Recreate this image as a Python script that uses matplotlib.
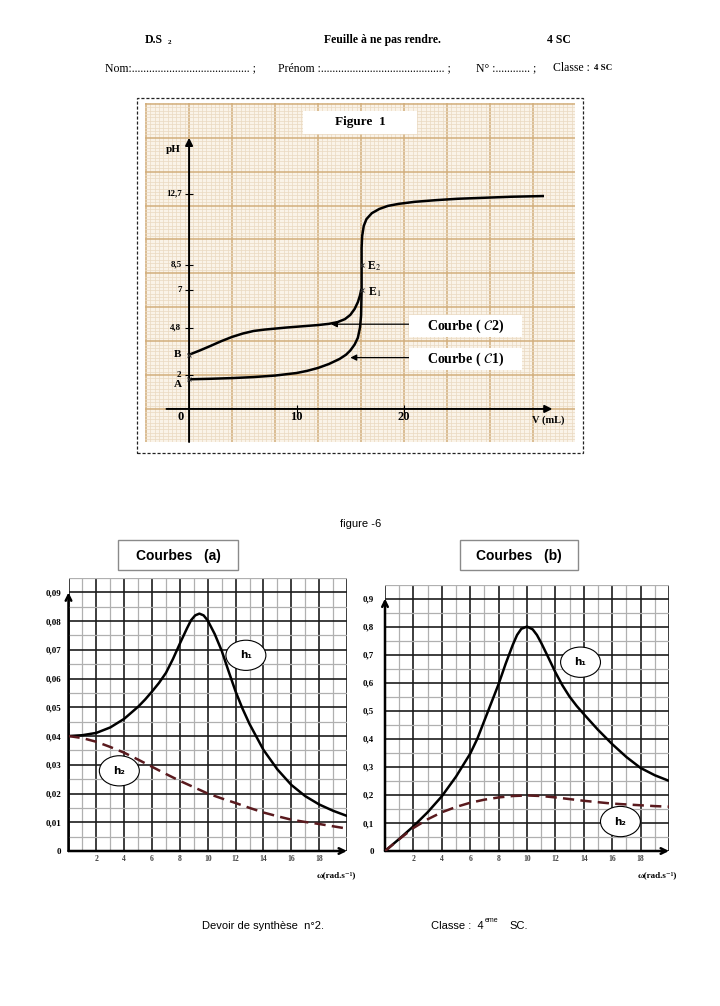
import numpy as np
import matplotlib
matplotlib.use("Agg")
import matplotlib.pyplot as plt
from matplotlib.patches import Rectangle, Ellipse
from matplotlib.ticker import MultipleLocator

W, H = 720, 1006
SERIF = ["Liberation Serif", "DejaVu Serif"]
SANS = ["Liberation Sans", "DejaVu Sans"]

# ---- figure 1 : pH = f(V) ----
c1_v = [0, 2, 4, 6, 8, 10, 11, 12, 13, 14, 14.6, 15.0, 15.4, 15.7, 15.9, 16.0,
        16.05, 16.05, 16.05, 16.1, 16.25, 16.5, 17.0, 17.7, 18.5, 19.5, 21, 23,
        25, 27.5, 30, 32.9]
c1_ph = [1.75, 1.78, 1.82, 1.88, 1.97, 2.12, 2.25, 2.42, 2.65, 2.95, 3.2, 3.45,
         3.8, 4.2, 4.8, 5.5, 7.0, 8.5, 9.5, 10.2, 10.8, 11.2, 11.55, 11.8, 11.98,
         12.1, 12.22, 12.32, 12.4, 12.46, 12.52, 12.56]
c2_v = [0, 1, 2, 3, 4, 5, 6, 7, 8, 9, 10, 11, 12, 13, 13.8, 14.5, 15.0, 15.4,
        15.7, 15.9, 16.0]
c2_ph = [3.2, 3.45, 3.72, 4.0, 4.25, 4.45, 4.6, 4.68, 4.74, 4.8, 4.85, 4.9, 4.95,
         5.02, 5.12, 5.3, 5.55, 5.9, 6.3, 6.7, 7.0]
ph_ticks = [2, 4.8, 7, 8.5, 12.7]
ph_labels = ["2", "4,8", "7", "8,5", "12,7"]
v_ticks = [10, 20]
v_labels = ["10", "20"]
pts_v = [0, 0, 16.05, 16.05]      # A, B, E1, E2
pts_ph = [1.75, 3.2, 7.0, 8.5]

# ---- courbes (a) ----
wa1 = [0, 1, 2, 3, 4, 5, 5.5, 6, 6.5, 7, 7.5, 8, 8.5, 8.8, 9.1, 9.4, 9.7, 10,
       10.5, 11, 11.5, 12, 12.5, 13, 14, 15, 16, 17, 18, 19, 20]
ha1 = [0.0400, 0.0403, 0.0411, 0.0430, 0.0460, 0.0502, 0.0527, 0.0555, 0.0585,
       0.0620, 0.0668, 0.0722, 0.0774, 0.0803, 0.0820, 0.0826, 0.0820, 0.0802,
       0.0755, 0.0697, 0.0625, 0.0555, 0.0495, 0.0442, 0.0352, 0.0284, 0.0230,
       0.0191, 0.0162, 0.0140, 0.0122]
wa2 = list(range(0, 21))
ha2 = [0.0400, 0.0393, 0.0380, 0.0362, 0.0342, 0.0318, 0.0293, 0.0268, 0.0244,
       0.0222, 0.0200, 0.0183, 0.0167, 0.0150, 0.0134, 0.0121, 0.0109, 0.0101,
       0.0094, 0.0086, 0.0078]

# ---- courbes (b) ----
wb1 = [0, 1, 2, 3, 4, 5, 6, 6.5, 7, 7.5, 8, 8.5, 9, 9.3, 9.6, 10, 10.4, 10.7,
       11, 11.5, 12, 12.5, 13, 13.5, 14, 15, 16, 17, 18, 19, 20]
hb1 = [0, 0.043, 0.088, 0.138, 0.195, 0.265, 0.347, 0.400, 0.465, 0.530, 0.595,
       0.668, 0.735, 0.770, 0.792, 0.800, 0.790, 0.770, 0.742, 0.690, 0.637,
       0.590, 0.550, 0.517, 0.488, 0.432, 0.381, 0.335, 0.296, 0.270, 0.250]
wb2 = list(range(0, 21))
hb2 = [0, 0.042, 0.082, 0.113, 0.138, 0.157, 0.172, 0.183, 0.191, 0.196, 0.198,
       0.196, 0.191, 0.185, 0.179, 0.174, 0.169, 0.166, 0.163, 0.160, 0.158]

w_ticks = list(range(0, 21, 2))
w_labels = [""] + [str(v) for v in range(2, 19, 2)] + [""]
ya_ticks = [i / 100 for i in range(10)]
ya_labels = ["0"] + ["0,0%d" % i for i in range(1, 10)]
yb_ticks = [i / 10 for i in range(10)]
yb_labels = ["0"] + ["0,%d" % i for i in range(1, 10)]


def rect(x0, y0, x1, y1):
    return [x0 / W, 1 - y1 / H, (x1 - x0) / W, (y1 - y0) / H]


def px(x, y):
    return x / W, 1 - y / H


fig = plt.figure(figsize=(7.2, 10.06), dpi=100)

# en-tete
hd = dict(family=SERIF, va="center")
fig.text(*px(145, 40), "D.S", fontsize=8.5, weight="bold", **hd)
fig.text(*px(168, 43), "2", fontsize=5, weight="bold", **hd)
fig.text(*px(382, 40), "Feuille à ne pas rendre.", fontsize=8.5, weight="bold",
         ha="center", **hd)
fig.text(*px(547, 40), "4 SC", fontsize=8.5, weight="bold", **hd)
fig.text(*px(105, 68), "Nom:" + "." * 41 + " ;", fontsize=8.5, **hd)
fig.text(*px(278, 68), "Prénom :" + "." * 43 + " ;", fontsize=8.5, **hd)
fig.text(*px(476, 68), "N° :" + "." * 12 + " ;", fontsize=8.5, **hd)
fig.text(*px(553, 68), "Classe :", fontsize=8.5, **hd)
fig.text(*px(594, 68), "4 SC", fontsize=6.5, weight="bold", **hd)

# cadre pointille
fig.patches.append(Rectangle((137 / W, 1 - 453 / H), 446 / W, 355 / H,
                             transform=fig.transFigure, fill=False, lw=0.9,
                             ls=(0, (2.5, 1.5)), ec="#222"))

ax1 = fig.add_axes(rect(145, 103, 575, 442))
ax1.set_facecolor("#faf3e8")
ax1.set_xlim(-4.1, 35.9)
ax1.set_ylim(-1.95, 18.05)
ax1.xaxis.set_major_locator(MultipleLocator(4))
ax1.yaxis.set_major_locator(MultipleLocator(2))
ax1.xaxis.set_minor_locator(MultipleLocator(0.4))
ax1.yaxis.set_minor_locator(MultipleLocator(0.2))
ax1.grid(which="major", color="#d2ae7c", lw=1.1)
ax1.grid(which="minor", color="#ead9c0", lw=0.5)
ax1.tick_params(which="both", length=0, labelbottom=False, labelleft=False)
for s in ax1.spines.values():
    s.set_visible(False)
ax1.set_axisbelow(True)

arr = dict(arrowstyle="-|>", color="k", lw=1.4, mutation_scale=11,
           shrinkA=0, shrinkB=0)
ax1.annotate("", xy=(0, 16.0), xytext=(0, -1.95), arrowprops=arr)
ax1.annotate("", xy=(33.8, 0), xytext=(-2.1, 0), arrowprops=arr)
ax1.plot(c1_v, c1_ph, color="k", lw=1.8, zorder=3)
ax1.plot(c2_v, c2_ph, color="k", lw=1.8, zorder=3)
ax1.plot(np.zeros(len(ph_ticks)), ph_ticks, ls="none", marker="_", ms=6,
         mew=0.8, color="k")
ax1.plot(v_ticks, np.zeros(len(v_ticks)), ls="none", marker="|", ms=6,
         mew=0.8, color="k")
ax1.plot(pts_v, pts_ph, ls="none", marker="x", ms=3.5, mew=0.7, color="#333",
         zorder=4)
for v, lab in zip(ph_ticks, ph_labels):
    ax1.text(-0.7, v, lab, ha="right", va="center", fontsize=6.5,
             weight="bold", family=SERIF)
for v, lab in zip(v_ticks, v_labels):
    ax1.text(v, -0.45, lab, ha="center", va="center", fontsize=9,
             weight="bold", family=SERIF)
ax1.text(-0.8, -0.45, "0", ha="center", va="center", fontsize=9,
         weight="bold", family=SERIF)
ax1.text(-0.7, 3.2, "B", ha="right", va="center", fontsize=8,
         weight="bold", family=SERIF)
ax1.text(-0.65, 1.45, "A", ha="right", va="center", fontsize=8,
         weight="bold", family=SERIF)
ax1.text(pts_v[3] + 0.5, pts_ph[3] - 0.1, "E$_2$", ha="left", va="center",
         fontsize=8.5, weight="bold", family=SERIF, math_fontfamily="stix")
ax1.text(pts_v[2] + 0.6, pts_ph[2] - 0.1, "E$_1$", ha="left", va="center",
         fontsize=8.5, weight="bold", family=SERIF, math_fontfamily="stix")
ax1.text(-1.5, 15.3, "pH", ha="center", va="center", fontsize=8,
         weight="bold", family=SERIF)
ax1.text(33.4, -0.65, "V (mL)", ha="center", va="center", fontsize=7.5,
         weight="bold", family=SERIF)

ax1.add_patch(Rectangle((10.6, 16.25), 10.6, 1.35, fc="white", ec="none",
                        zorder=4))
ax1.text(15.9, 16.9, "Figure  1", ha="center", va="center", fontsize=9.5,
         weight="bold", family=SERIF, zorder=5)
for yc, name, tip in [(4.9, "2", (13.2, 5.0)), (2.95, "1", (15.0, 3.03))]:
    ax1.add_patch(Rectangle((20.5, yc - 0.65), 10.5, 1.3, fc="white",
                            ec="none", zorder=4))
    ax1.text(25.7, yc, r"Courbe ( $\mathcal{C}$" + name + ")", ha="center",
             va="center", fontsize=10, weight="bold", family=SERIF,
             math_fontfamily="stix", zorder=5)
    ax1.annotate("", xy=tip, xytext=(20.5, tip[1]),
                 arrowprops=dict(arrowstyle="-|>", color="k", lw=0.9,
                                 mutation_scale=9, shrinkA=0, shrinkB=0))

fig.text(*px(361, 524), "figure -6", ha="center", va="center", fontsize=8,
         family=SANS)


def courbes(box, title_box, title, ymax, yt, ylab, ymin_step, curves,
            ells, ypad):
    ax = fig.add_axes(rect(*box))
    ax.set_xlim(0, 20)
    ax.set_ylim(0, ymax)
    ax.set_xticks(w_ticks)
    ax.set_xticklabels(w_labels)
    ax.set_xticks(np.arange(1, 20, 2), minor=True)
    ax.set_yticks(yt)
    ax.set_yticklabels(ylab)
    ax.set_yticks(np.array(yt) + ymin_step, minor=True)
    ax.grid(which="major", color="#1c1c1c", lw=1.2)
    ax.grid(which="minor", color="#b0b0b0", lw=0.9)
    ax.tick_params(which="both", length=0)
    ax.tick_params(axis="y", pad=ypad, labelsize=6.5)
    ax.tick_params(axis="x", pad=3, labelsize=5.5, labelcolor="#444")
    for lab in ax.get_xticklabels() + ax.get_yticklabels():
        lab.set_family(SERIF)
        lab.set_weight("bold")
    for s in ax.spines.values():
        s.set_visible(False)
    a = dict(arrowstyle="->", color="k", lw=1.8, mutation_scale=10,
             shrinkA=0, shrinkB=0)
    ax.annotate("", xy=(0, ymax), xytext=(0, 0), arrowprops=a,
                annotation_clip=False)
    ax.annotate("", xy=(20, 0), xytext=(0, 0), arrowprops=a,
                annotation_clip=False)
    (w1, h1), (w2, h2) = curves
    ax.plot(w1, h1, color="k", lw=1.8, zorder=3, solid_joinstyle="round")
    ax.plot(w2, h2, color="#5a1a1e", lw=1.8, ls=(0, (4.5, 2.5)), zorder=3)
    for (cx, cy, ew, eh), lab in zip(ells, ["h₁", "h₂"]):
        ax.add_patch(Ellipse((cx, cy), ew, eh, fc="white", ec="k", lw=0.8,
                             zorder=4))
        ax.text(cx, cy, lab, ha="center", va="center", fontsize=7.5,
                weight="bold", family=["DejaVu Sans"], zorder=5)
    ax.text(19.2, -ymax * 0.095, "ω(rad.s⁻¹)", ha="center", va="center",
            fontsize=6.5, weight="bold", family=SERIF)
    x0, y0, x1, y1 = title_box
    fig.patches.append(Rectangle((x0 / W, 1 - y1 / H), (x1 - x0) / W,
                                 (y1 - y0) / H, transform=fig.transFigure,
                                 fc="white", ec="#8a8a8a", lw=1.0))
    fig.text(*px((x0 + x1) / 2, (y0 + y1) / 2 + 1), title, ha="center",
             va="center", fontsize=10, weight="bold", family=SANS)
    return ax


courbes((68.5, 578, 347, 851), (118, 540, 238, 570), "Courbes   (a)", 0.09,
        ya_ticks, ya_labels, 0.005, [(wa1, ha1), (wa2, ha2)],
        [(12.74, 0.0681, 2.87, 0.0105), (3.65, 0.0279, 2.87, 0.0105)], 5)
courbes((385, 584.5, 669, 851), (460, 540, 578, 570), "Courbes   (b)", 0.9,
        yb_ticks, yb_labels, 0.05, [(wb1, hb1), (wb2, hb2)],
        [(13.77, 0.673, 2.81, 0.108), (16.58, 0.105, 2.81, 0.108)], 8)

# pied de page
fig.text(*px(202, 926), "Devoir de synthèse  n°2.", fontsize=8, family=SANS,
         va="center")
fig.text(*px(431, 926), "Classe :  4", fontsize=8, family=SANS, va="center")
fig.text(*px(485, 921), "eme", fontsize=5, family=SANS, va="center")
fig.text(*px(509, 926), "SC.", fontsize=8, family=SANS, va="center")

fig.savefig("out.png", dpi=100)
